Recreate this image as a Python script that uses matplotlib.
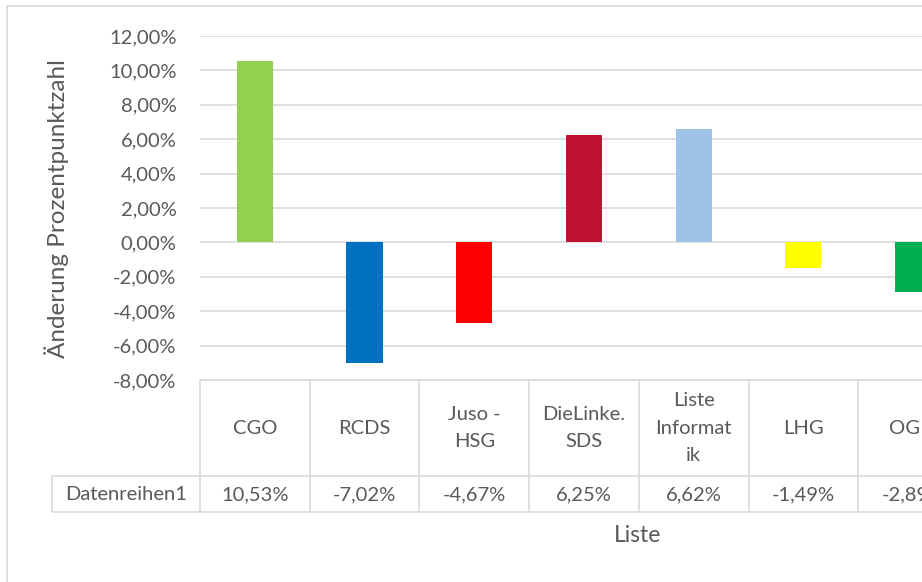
import matplotlib.pyplot as plt
import matplotlib.patches as mpatches
import numpy as np

# Daten (Änderung in Prozentpunkten)
LISTEN = ["CGO", "RCDS", "Juso -\nHSG", "DieLinke.\nSDS", "Liste\nInformat\nik", "LHG", "OG"]
WERTE = [10.53, -7.02, -4.67, 6.25, 6.62, -1.49, -2.89]
FARBEN = ["#92D050", "#0070C0", "#FF0000", "#BE1432", "#9DC3E6", "#FFFF00", "#00B050"]
SERIE = "Datenreihen1"
Y_TICKS = [-8, -6, -4, -2, 0, 2, 4, 6, 8, 10, 12]

FONT = "Lato"
TXT = "#595959"
GRID = "#D9D9D9"
FS = 14.5

W, H = 922, 582
fig = plt.figure(figsize=(W / 100, H / 100), dpi=100)

# Plotbereich in Pixeln
x0, x1 = 200, 922
y_top, y_bot = 36, 380
cat_px = 109.7
ax = fig.add_axes([x0 / W, (H - y_bot) / H, (x1 - x0) / W, (y_bot - y_top) / H])
xmax = -0.5 + (x1 - x0) / cat_px
ax.set_xlim(-0.5, xmax)
ax.set_ylim(-8, 12)

x = np.arange(len(LISTEN))
ax.bar(x, WERTE, width=0.33, color=FARBEN, zorder=3)

ax.set_yticks(Y_TICKS)
ax.set_yticklabels([f"{v:.2f}".replace(".", ",") + "%" for v in Y_TICKS],
                   fontsize=FS, color=TXT, family=FONT)
ax.tick_params(axis="y", length=0, pad=17)
ax.set_xticks([])
ax.grid(axis="y", color=GRID, linewidth=1.2, zorder=0)
for s in ax.spines.values():
    s.set_visible(False)
ax.set_ylabel("Änderung Prozentpunktzahl", fontsize=17.5, color=TXT, family=FONT)
ax.yaxis.set_label_coords(-0.182, 0.497)

# Datentabelle unter dem Diagramm
t_left, t_mid, t_bot = 52, 476, 512
tab = fig.add_axes([t_left / W, (H - t_bot) / H, (x1 - t_left) / W, (t_bot - y_bot) / H])
tab.set_xlim(-0.5 - (x0 - t_left) / cat_px, xmax)
tab.set_ylim(t_bot, y_bot)
tab.axis("off")
lw = 1.2
tab.hlines(y_bot, -0.5, xmax, color=GRID, lw=lw, clip_on=False)
tab.hlines([t_mid, t_bot], tab.get_xlim()[0], xmax, color=GRID, lw=lw, clip_on=False)
tab.vlines(tab.get_xlim()[0], t_mid, t_bot, color=GRID, lw=lw, clip_on=False)
for b in np.arange(len(LISTEN)) - 0.5:
    tab.vlines(b, y_bot, t_bot, color=GRID, lw=lw, clip_on=False)

for xi, name, v in zip(x, LISTEN, WERTE):
    # Beschriftung der letzten, angeschnittenen Spalte im sichtbaren Teil halten
    tab.text(min(xi, xmax - 0.16), (y_bot + t_mid) / 2, name, ha="center", va="center",
             fontsize=FS, color=TXT, family=FONT, linespacing=1.72, clip_on=False)
    tab.text(xi, (t_mid + t_bot) / 2 + 1, f"{v:.2f}".replace(".", ",") + "%",
             ha="center", va="center", fontsize=FS, color=TXT, family=FONT, clip_on=False)
tab.text(-0.5 - (x0 - t_left) / cat_px / 2, (t_mid + t_bot) / 2 + 1, SERIE,
         ha="center", va="center", fontsize=FS, color=TXT, family=FONT)

fig.text(638 / W, 1 - 535 / H, "Liste", ha="center", va="center",
         fontsize=16.5, color=TXT, family=FONT)

# Rahmen des Diagramms
fig.patches.append(mpatches.Rectangle((7 / W, -0.1), 1.1, 1 - 6 / H + 0.1,
                                      transform=fig.transFigure, fill=False,
                                      edgecolor=GRID, lw=1.2))

fig.savefig("out.png", dpi=100)
